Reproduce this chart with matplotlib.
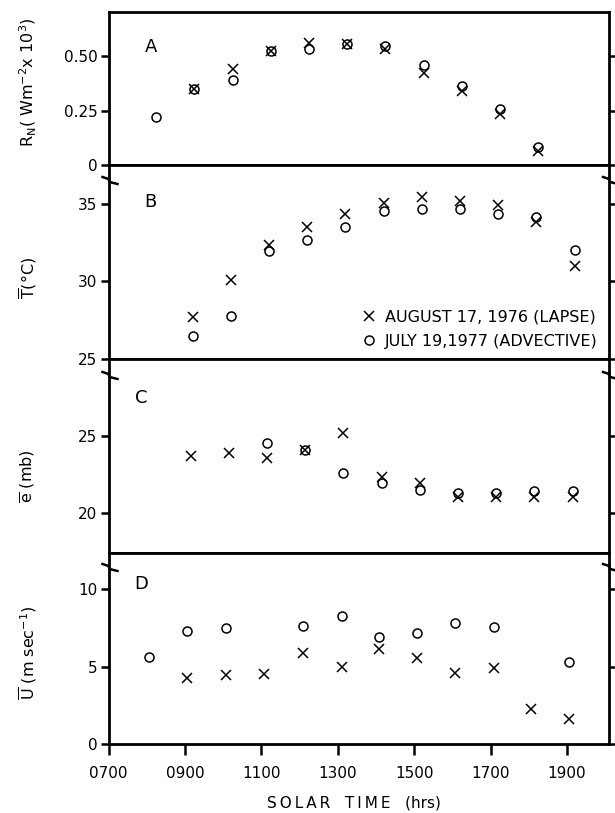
import matplotlib
matplotlib.use("Agg")
import matplotlib.pyplot as plt
from matplotlib.lines import Line2D
import numpy as np

plt.rcParams['font.family'] = ['DejaVu Sans']

# ---- data ----
hours_A = [8.25, 9.25, 10.25, 11.25, 12.25, 13.25, 14.25, 15.25, 16.25, 17.25, 18.25]
rn_lapse = [np.nan, 0.348, 0.442, 0.525, 0.560, 0.555, 0.532, 0.425, 0.342, 0.235, 0.064]
rn_adv = [0.222, 0.348, 0.391, 0.525, 0.534, 0.555, 0.549, 0.460, 0.365, 0.256, 0.083]

hours_B = [9.2, 10.2, 11.2, 12.2, 13.2, 14.2, 15.2, 16.2, 17.2, 18.2, 19.2]
t_lapse = [27.7, 30.1, 32.35, 33.48, 34.33, 35.04, 35.43, 35.2, 34.9, 33.8, 30.97]
t_adv = [26.46, 27.75, 31.93, 32.68, 33.48, 34.55, 34.66, 34.66, 34.33, 34.12, 32.04]

hours_C = [9.15, 10.15, 11.15, 12.15, 13.15, 14.15, 15.15, 16.15, 17.15, 18.15, 19.15]
e_lapse = [23.69, 23.86, 23.54, 24.08, 25.15, 22.32, 21.93, 21.07, 21.03, 21.03, 21.03]
e_adv = [np.nan, np.nan, 24.55, 24.08, 22.62, 21.93, 21.5, 21.29, 21.29, 21.46, 21.46]

hours_D = [8.07, 9.05, 10.07, 11.07, 12.08, 13.1, 14.08, 15.08, 16.06, 17.08, 18.07, 19.05]
u_lapse = [np.nan, 4.25, 4.46, 4.5, 5.86, 4.96, 6.12, 5.54, 4.57, 4.89, 2.24, 1.6]
u_adv = [5.65, 7.3, 7.48, np.nan, 7.63, 8.3, 6.94, 7.2, 7.84, 7.59, np.nan, 5.32]

xticks = [7, 9, 11, 13, 15, 17, 19]
xtick_labels = ["0700", "0900", "1100", "1300", "1500", "1700", "1900"]

panel_letters = ["A", "B", "C", "D"]
ylabels = [r"R$_\mathrm{N}$( Wm$^{-2}$x 10$^3$)",
           r"$\overline{\mathrm{T}}$(°C)",
           r"$\overline{\mathrm{e}}$ (mb)",
           r"$\overline{\mathrm{U}}$ (m sec$^{-1}$)"]
legend_labels = ["AUGUST 17, 1976 (LAPSE)", "JULY 19,1977 (ADVECTIVE)"]

# ---- layout ----
W, H = 615, 813
fig = plt.figure(figsize=(W / 100, H / 100), dpi=100)

left_px, right_px = 108.5, 609
bounds_px = [11.7, 165, 359, 553, 744]  # top of A, dividers, bottom of D

ylims = [(0, 0.706), (25, 37.5), (17.46, 29.92), (0, 12.36)]
yticks = [[0, 0.25, 0.5], [25, 30, 35], [20, 25], [0, 5, 10]]
ytick_labels = [["0", "0.25", "0.50"], ["25", "30", "35"], ["20", "25"], ["0", "5", "10"]]
letter_pos = [(0.085, 0.77), (0.083, 0.81), (0.065, 0.80), (0.065, 0.84)]

series = [
    (hours_A, rn_lapse, rn_adv),
    (hours_B, t_lapse, t_adv),
    (hours_C, e_lapse, e_adv),
    (hours_D, u_lapse, u_adv),
]

axes = []
for i in range(4):
    top, bot = bounds_px[i], bounds_px[i + 1]
    ax = fig.add_axes([left_px / W, 1 - bot / H, (right_px - left_px) / W, (bot - top) / H])
    axes.append(ax)
    xs, yl, ya = series[i]
    hx, = ax.plot(xs, yl, linestyle="none", marker="x", color="black", markersize=6.5, mew=1.1)
    ho, = ax.plot(xs, ya, linestyle="none", marker="o", mfc="none", mec="black", markersize=6.5, mew=1.1)
    ax.set_xlim(7, 20.1)
    ax.set_ylim(*ylims[i])
    ax.set_yticks(yticks[i])
    ax.set_yticklabels(ytick_labels[i], fontsize=11)
    for s in ax.spines.values():
        s.set_linewidth(2.0)
    ax.tick_params(axis="y", direction="out", length=6, width=1.8, right=True, pad=2)
    if i < 3:
        ax.set_xticks([])
    else:
        ax.set_xticks(xticks)
        ax.set_xticklabels(xtick_labels, fontsize=11)
        ax.tick_params(axis="x", direction="out", length=8, width=1.8, pad=8)
    # panel letter
    lx, ly = letter_pos[i]
    ax.text(lx, ly, panel_letters[i], transform=ax.transAxes, fontsize=13, ha="center", va="center")
    # y label
    cy = 1 - ((top + bot) / 2 + [-6, 16, 20, 4][i]) / H
    fig.text(28 / W, cy, ylabels[i], rotation=90, ha="center", va="center", fontsize=11.5)
    if i == 1:
        ax.legend([hx, ho], legend_labels, loc="lower right", frameon=False, fontsize=11.5,
                  handletextpad=0.5, borderaxespad=0.0, labelspacing=0.6, handlelength=1.0,
                  bbox_to_anchor=(0.99, 0.02))

# break marks on the spines
def brk(xp, yp):
    xs = [xp - 6, xp, xp + 1, xp + 9]
    ys = [yp - 3, yp - 1, yp + 2, yp + 4]
    fig.add_artist(Line2D([x / W for x in xs], [1 - y / H for y in ys],
                          transform=fig.transFigure, color="black", lw=1.8))

for ypx in [180, 375, 567]:
    brk(left_px, ypx)
    brk(right_px, ypx)

ts = "\u2009"
xlabel = ts.join("SOLAR") + "   " + ts.join("TIME") + "   (hrs)"
fig.text(354 / W, 1 - 803 / H, xlabel, ha="center", va="center", fontsize=11)

fig.savefig("out.png", dpi=100)
